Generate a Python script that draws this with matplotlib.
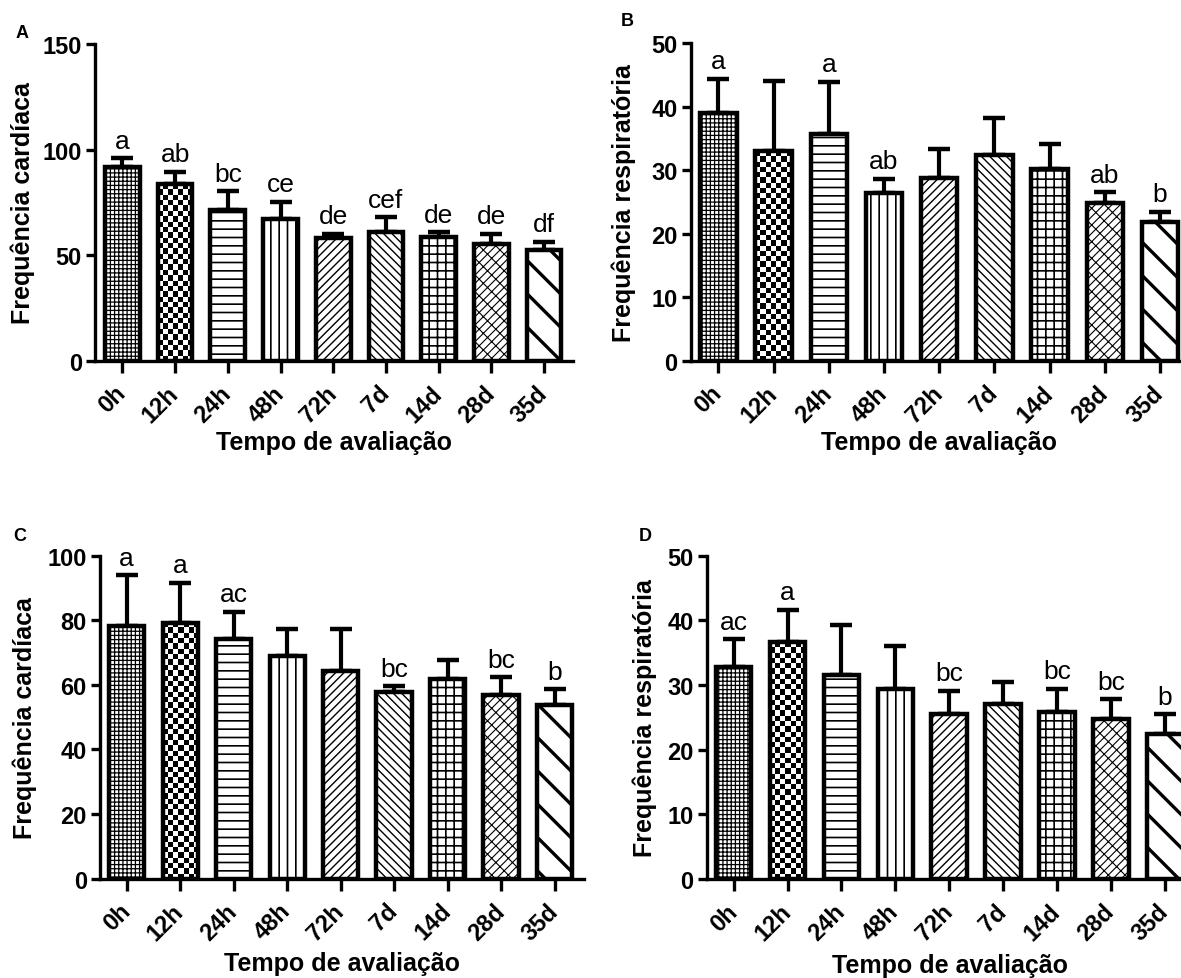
import numpy as np
import matplotlib
matplotlib.use("Agg")
from matplotlib import pyplot as plt

plt.rcParams['font.family'] = ['Liberation Sans', 'DejaVu Sans']
plt.rcParams['hatch.linewidth'] = 1.0

times = ['0h', '12h', '24h', '48h', '72h', '7d', '14d', '28d', '35d']

# panel A - frequencia cardiaca
fc_a = [91.6, 83.7, 71.6, 67.1, 58.0, 61.1, 58.4, 55.2, 52.5]
fc_a_err = [4.3, 5.8, 8.7, 8.3, 2.0, 6.9, 2.4, 4.8, 3.8]
fc_a_let = ['a', 'ab', 'bc', 'ce', 'de', 'cef', 'de', 'de', 'df']

# panel B - frequencia respiratoria
fr_b = [39.0, 33.0, 35.6, 26.4, 28.8, 32.4, 30.1, 24.8, 21.9]
fr_b_err = [5.4, 11.0, 8.3, 2.2, 4.5, 5.8, 4.0, 1.7, 1.5]
fr_b_let = ['a', '', 'a', 'ab', '', '', '', 'ab', 'b']

# panel C - frequencia cardiaca
fc_c = [78.3, 79.3, 74.2, 68.8, 64.4, 57.7, 61.8, 57.0, 53.7]
fc_c_err = [15.7, 12.4, 8.5, 8.5, 12.9, 1.8, 5.8, 5.3, 5.0]
fc_c_let = ['a', 'a', 'ac', '', '', 'bc', '', 'bc', 'b']

# panel D - frequencia respiratoria
fr_d = [32.8, 36.6, 31.6, 29.4, 25.5, 27.1, 25.9, 24.7, 22.4]
fr_d_err = [4.3, 5.0, 7.7, 6.7, 3.6, 3.4, 3.5, 3.1, 3.1]
fr_d_let = ['ac', 'a', '', '', 'bc', '', 'bc', 'bc', 'b']

# hatch per time point (None -> checkerboard), with hatch line width
hatches = [('++++', 0.9), (None, 0), ('--', 1.2), ('||', 1.2), ('////', 1.0),
           ('\\\\\\\\', 1.0), ('++', 1.2), ('////\\\\', 0.8), ('\\', 2.4)]

W, H = 1181, 979
fig = plt.figure(figsize=(W / 100, H / 100), dpi=100)


def px_axes(left, right, top, bottom):
    return fig.add_axes([left / W, 1 - bottom / H, (right - left) / W, (bottom - top) / H])


def checker(ax, bar, cell=5.3):
    x0, y0 = bar.get_x(), bar.get_y()
    x1, y1 = x0 + bar.get_width(), y0 + bar.get_height()
    p0 = ax.transData.transform((x0, y0))
    p1 = ax.transData.transform((x1, y1))
    nx = max(1, int(round(abs(p1[0] - p0[0]) / cell)))
    ny = max(1, int(round(abs(p1[1] - p0[1]) / cell)))
    board = np.add.outer(np.arange(ny), np.arange(nx)) % 2
    im = ax.imshow(board, cmap='gray_r', extent=(x0, x1, y0, y1), origin='lower',
                   aspect='auto', interpolation='nearest', zorder=2.2, vmin=0, vmax=1)
    im.set_clip_path(bar)


def panel(ax, vals, errs, lets, ymax, ystep, xlim, ylab, ylab_x, xlab_x, xlab_y):
    x = np.arange(len(times))
    ax.set_autoscale_on(False)
    ax.set_xlim(*xlim)
    ax.set_ylim(0, ymax)

    ax.errorbar(x, vals, yerr=[np.zeros(len(vals)), errs], fmt='none', ecolor='black',
                elinewidth=3.0, capsize=8, capthick=3.2, zorder=1.5)

    bars = ax.bar(x, vals, width=0.66, color='white', edgecolor='black', linewidth=0, zorder=2)
    for b, (h, hl) in zip(bars, hatches):
        if h is None:
            checker(ax, b)
        else:
            b.set_hatch(h)
            if hasattr(b, 'set_hatch_linewidth'):
                b.set_hatch_linewidth(hl)
    ax.bar(x, vals, width=0.66, fill=False, edgecolor='black', linewidth=3.2, zorder=3)

    for xi, v, e, t in zip(x, vals, errs, lets):
        if t:
            ax.annotate(t, (xi, v + e), xytext=(0, 4), textcoords='offset points',
                        ha='center', va='bottom', fontsize=19)

    for s in ['top', 'right']:
        ax.spines[s].set_visible(False)
    for s in ['left', 'bottom']:
        ax.spines[s].set_linewidth(2.4)

    ax.set_yticks(np.arange(0, ymax + 0.1, ystep))
    ax.set_xticks(x)
    ax.set_xticklabels(times)
    ax.tick_params(axis='both', width=2.4, labelsize=17)
    ax.tick_params(axis='x', length=8.5, pad=12)
    ax.tick_params(axis='y', length=6.5, pad=3)
    for lab in ax.get_xticklabels():
        lab.set_fontweight('bold')
        lab.set_rotation(45)
        lab.set_ha('right')
        lab.set_va('center')
        lab.set_rotation_mode('anchor')
    for lab in ax.get_yticklabels():
        lab.set_fontweight('bold')

    ax.set_ylabel(ylab, fontsize=18, fontweight='bold', va='center', ha='center')
    ax.yaxis.set_label_coords(ylab_x, 0.5)
    ax.set_xlabel('Tempo de avaliação', fontsize=18, fontweight='bold', va='baseline')
    ax.xaxis.set_label_coords(xlab_x, xlab_y)


ax_a = px_axes(95, 573, 45, 361.7)
ax_b = px_axes(690.7, 1187.7, 44, 361.7)
ax_c = px_axes(100, 584, 556.7, 879.6)
ax_d = px_axes(706.7, 1192.7, 556.7, 880)

panel(ax_a, fc_a, fc_a_err, fc_a_let, 150, 50, (-0.52, 8.55), 'Frequência cardíaca', -0.151, 0.5, -0.279)
panel(ax_b, fr_b, fr_b_err, fr_b_let, 50, 10, (-0.5, 8.5), 'Frequência respiratória', -0.134, 0.5, -0.278)
panel(ax_c, fc_c, fc_c_err, fc_c_let, 100, 20, (-0.5, 8.55), 'Frequência cardíaca', -0.155, 0.5, -0.283)
panel(ax_d, fr_d, fr_d_err, fr_d_let, 50, 10, (-0.5, 8.52), 'Frequência respiratória', -0.127, 0.5, -0.287)

for lab, (px, py) in zip('ABCD', [(22, 33), (627, 22), (20, 537), (645, 537)]):
    fig.text(px / W, 1 - py / H, lab, fontsize=13, fontweight='bold', ha='center', va='center')

fig.savefig('out.png', dpi=100)
